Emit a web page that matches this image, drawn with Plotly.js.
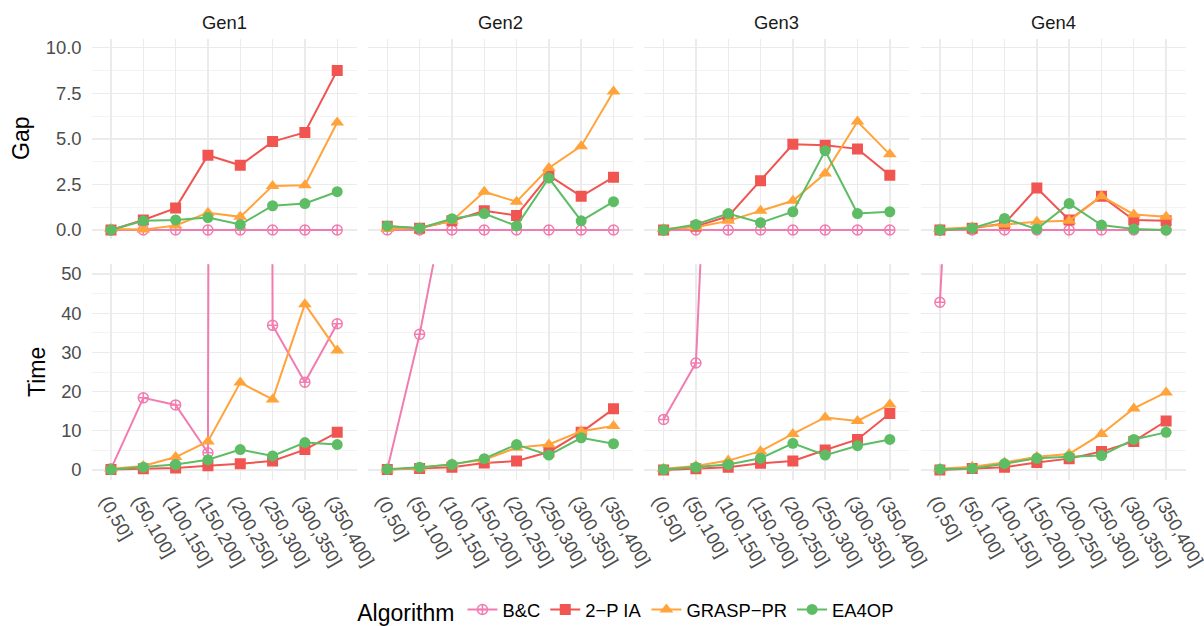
<!DOCTYPE html>
<html>
<head>
<meta charset="utf-8">
<script src="https://cdn.plot.ly/plotly-3.0.1.min.js"></script>
<style>html,body{margin:0;padding:0;background:#fff;}#chart{width:1204px;height:626px;}</style>
</head>
<body>
<div id="chart"></div>
<script>
// ---------- data ----------
const categories = ["(0,50]", "(50,100]", "(100,150]", "(150,200]", "(200,250]", "(250,300]", "(300,350]", "(350,400]"];
const gens = ["Gen1", "Gen2", "Gen3", "Gen4"];
const algorithms = ["B&C", "2\u2212P IA", "GRASP\u2212PR", "EA4OP"];
const measures = ["Gap", "Time"];

// Gap values, one row per generation (Gen1..Gen4)
const gapBC = [
  [0, 0, 0, 0, 0, 0, 0, 0],
  [0, 0, 0, 0, 0, 0, 0, 0],
  [0, 0, 0, 0, 0, 0, 0, 0],
  [0, 0, 0, 0, 0, 0, 0, 0]
];
const gapIA = [
  [0, 0.55, 1.2, 4.1, 3.55, 4.85, 5.35, 8.75],
  [0.2, 0.1, 0.5, 1.05, 0.8, 3.0, 1.85, 2.9],
  [0, 0.2, 0.75, 2.7, 4.7, 4.65, 4.45, 3.0],
  [0, 0.1, 0.35, 2.3, 0.55, 1.85, 0.55, 0.5]
];
const gapGRASP = [
  [0.05, 0.02, 0.25, 0.95, 0.72, 2.42, 2.45, 5.9],
  [0.05, 0.12, 0.5, 2.1, 1.55, 3.4, 4.6, 7.6],
  [0.05, 0.15, 0.5, 1.05, 1.6, 3.1, 5.95, 4.15],
  [0.05, 0.15, 0.3, 0.45, 0.5, 1.85, 0.85, 0.72]
];
const gapEA = [
  [0, 0.5, 0.55, 0.68, 0.3, 1.33, 1.45, 2.1],
  [0.22, 0.1, 0.62, 0.9, 0.22, 2.85, 0.5, 1.55],
  [0, 0.3, 0.9, 0.4, 1.0, 4.35, 0.9, 1.0],
  [0, 0.1, 0.63, 0.05, 1.45, 0.27, 0.05, 0]
];

// Time values, one row per generation (Gen1..Gen4)
const timeBC = [
  [0.3, 18.4, 16.6, 4.4, 3600, 36.9, 22.4, 37.3],
  [0.2, 34.6, 77, null, null, null, null, null],
  [12.9, 27.3, 210, null, null, null, null, null],
  [42.8, 197, null, null, null, null, null, null]
];
const timeIA = [
  [0.1, 0.3, 0.5, 1.1, 1.6, 2.3, 5.2, 9.6],
  [0.1, 0.4, 0.7, 1.8, 2.3, 4.6, 9.6, 15.6],
  [0, 0.3, 0.7, 1.7, 2.3, 5.1, 7.8, 14.4],
  [0, 0.4, 0.7, 1.9, 2.9, 4.7, 7.3, 12.5]
];
const timeGRASP = [
  [0.3, 1.0, 3.3, 7.3, 22.3, 18.0, 42.3, 30.5],
  [0.1, 0.5, 1.5, 2.6, 5.7, 6.5, 9.9, 11.2],
  [0.3, 1.0, 2.4, 4.8, 9.2, 13.4, 12.5, 16.7],
  [0.3, 0.8, 1.9, 3.4, 4.1, 9.2, 15.7, 19.8]
];
const timeEA = [
  [0.1, 0.7, 1.4, 2.6, 5.2, 3.6, 7.0, 6.5],
  [0.2, 0.7, 1.4, 2.9, 6.5, 3.8, 8.2, 6.7],
  [0.1, 0.7, 1.4, 3.0, 6.8, 3.8, 6.2, 7.8],
  [0.2, 0.4, 1.6, 3.0, 3.4, 3.7, 7.8, 9.6]
];

// ---------- styles ----------
const colors = ["#F17CB0", "#F05552", "#FFA33A", "#5EBD64"];
const symbols = ["circle-cross-open", "square", "triangle-up", "circle"];
const sizes = [10, 11, 12, 11];

const W = 1204, H = 626;
const colLeft = [91.6, 367.9, 644.2, 920.5];
const colW = 265;
const rowTop = [[38.6, 239.1], [264.2, 479.8]];

const gapSets = [gapBC, gapIA, gapGRASP, gapEA];
const timeSets = [timeBC, timeIA, timeGRASP, timeEA];

const traces = [];
const layout = {
  width: W, height: H,
  margin: {l: 0, r: 0, t: 0, b: 0, autoexpand: false},
  paper_bgcolor: "#fff", plot_bgcolor: "#fff",
  font: {family: "Liberation Sans, Arial, sans-serif", color: "#1A1A1A"},
  showlegend: true,
  legend: {
    orientation: "h", x: 0.521, xanchor: "center", y: 15 / 626, yanchor: "middle",
    font: {size: 18.4, color: "#000"},
    title: {text: "Algorithm", side: "left", font: {size: 23, color: "#000"}},
    itemwidth: 30, tracegroupgap: 0, bgcolor: "rgba(0,0,0,0)"
  },
  annotations: [],
  hovermode: false
};

for (let r = 0; r < 2; r++) {
  for (let c = 0; c < 4; c++) {
    const k = r * 4 + c + 1;
    const xk = k === 1 ? "x" : "x" + k;
    const yk = k === 1 ? "y" : "y" + k;
    const xName = k === 1 ? "xaxis" : "xaxis" + k;
    const yName = k === 1 ? "yaxis" : "yaxis" + k;
    layout[xName] = {
      domain: [colLeft[c] / W, (colLeft[c] + colW) / W],
      anchor: yk,
      type: "category",
      categoryorder: "array", categoryarray: categories,
      range: [-0.6, 7.6],
      showgrid: true, gridcolor: "#EBEBEB", gridwidth: 1.4,
      zeroline: false, showline: false, ticks: "",
      showticklabels: r === 1,
      tickangle: 60,
      ticklabelstandoff: 6,
      ticklabelshift: -4,
      tickfont: {size: 18.4, color: "#4D4D4D"},
      fixedrange: true
    };
    const top = rowTop[r][0], bot = rowTop[r][1];
    layout[yName] = {
      domain: [1 - bot / H, 1 - top / H],
      anchor: xk,
      range: r === 0 ? [-0.5, 10.5] : [-2.5, 52.5],
      tick0: 0, dtick: r === 0 ? 2.5 : 10,
      tickformat: r === 0 ? ".1f" : "d",
      minor: {dtick: r === 0 ? 1.25 : 5, tick0: 0, showgrid: true, gridcolor: "#F0F0F0", gridwidth: 0.8},
      showgrid: true, gridcolor: "#EBEBEB", gridwidth: 1.4,
      zeroline: false, showline: false, ticks: "",
      showticklabels: c === 0,
      ticklabelstandoff: 9,
      tickfont: {size: 18.4, color: "#4D4D4D"},
      fixedrange: true
    };
    const sets = r === 0 ? gapSets : timeSets;
    for (let a = 0; a < 4; a++) {
      traces.push({
        type: "scatter", mode: "lines+markers",
        x: categories, y: sets[a][c],
        xaxis: xk, yaxis: yk,
        name: algorithms[a], legendgroup: algorithms[a],
        showlegend: k === 1,
        connectgaps: false,
        line: {color: colors[a], width: 2},
        marker: {
          symbol: symbols[a], size: sizes[a], color: colors[a],
          line: {color: colors[a], width: a === 0 ? 1.5 : 0}
        },
        cliponaxis: true
      });
    }
    if (r === 0) {
      layout.annotations.push({
        text: gens[c], xref: "paper", yref: "paper",
        x: (colLeft[c] + colW / 2) / W, y: 1 - 22 / H,
        xanchor: "center", yanchor: "middle", showarrow: false,
        font: {size: 18.4, color: "#1A1A1A"}
      });
    }
  }
}
// axis titles
layout.annotations.push({
  text: measures[0], xref: "paper", yref: "paper",
  x: 21 / W, y: 1 - 139 / H, xanchor: "center", yanchor: "middle",
  textangle: -90, showarrow: false, font: {size: 23, color: "#000"}
});
layout.annotations.push({
  text: measures[1], xref: "paper", yref: "paper",
  x: 37 / W, y: 1 - 372 / H, xanchor: "center", yanchor: "middle",
  textangle: -90, showarrow: false, font: {size: 23, color: "#000"}
});

Plotly.newPlot("chart", traces, layout, {displayModeBar: false, staticPlot: true});
</script>
</body>
</html>
